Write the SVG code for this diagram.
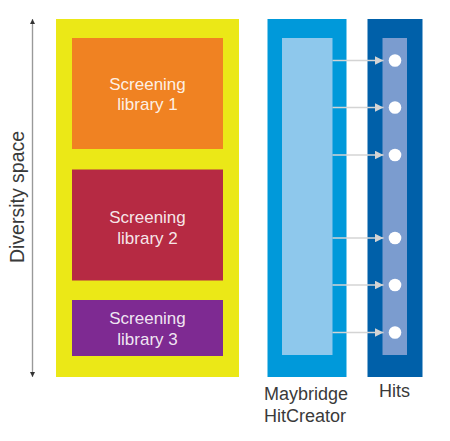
<svg xmlns="http://www.w3.org/2000/svg" width="450" height="441" viewBox="0 0 450 441">
<style>
.lbl{font-family:"Liberation Sans",Arial,sans-serif;font-size:18px;fill:#3a3a3a}
.box{font-family:"Liberation Sans",Arial,sans-serif;font-size:17px;fill:#fff;fill-opacity:0.9;text-anchor:middle}
.conn{stroke:#d4d4d4;stroke-width:1.5;fill:none;marker-end:url(#ah)}
.hit{fill:#fff}
</style>
<defs>
<marker id="ah" viewBox="0 0 10 10" refX="10" refY="5" markerWidth="10" markerHeight="8.5" markerUnits="userSpaceOnUse" orient="auto">
<path d="M0,0 L10,5 L0,10 Z" fill="#d4d4d4"/>
</marker>
<marker id="ax" viewBox="0 0 10 10" refX="10" refY="5" markerWidth="6" markerHeight="5" markerUnits="userSpaceOnUse" orient="auto">
<path d="M0,0 L10,5 L0,10 Z" fill="#333"/>
</marker>
</defs>
<rect width="450" height="441" fill="#fff"/>
<g id="axis">
<line x1="32.5" y1="370" x2="32.5" y2="19" stroke="#999" stroke-width="1.2" marker-end="url(#ax)"/>
<line x1="32.5" y1="25" x2="32.5" y2="377" stroke="#999" stroke-width="1.2" marker-end="url(#ax)"/>
<text class="lbl" style="font-size:19.5px" transform="translate(24,197) rotate(-90)" text-anchor="middle">Diversity space</text>
</g>
<g id="diversity">
<rect x="56" y="19" width="183" height="358" fill="#ebe817"/>
</g>
<g id="lib1">
<rect x="72" y="38" width="151" height="111" fill="#f08222"/>
<text class="box" x="147.5" y="89.5">Screening</text>
<text class="box" x="147.5" y="110">library 1</text>
</g>
<g id="lib2">
<rect x="72" y="169.5" width="151" height="111" fill="#b62a43"/>
<text class="box" x="147.5" y="223">Screening</text>
<text class="box" x="147.5" y="244">library 2</text>
</g>
<g id="lib3">
<rect x="72" y="300" width="151" height="56" fill="#7e2a92"/>
<text class="box" x="147.5" y="324">Screening</text>
<text class="box" x="147.5" y="345">library 3</text>
</g>
<g id="hitcreator">
<rect x="267.5" y="19" width="79" height="358" fill="#0099da"/>
<rect x="282" y="38" width="50.5" height="317" fill="#8ec8ec"/>
<text class="lbl" x="264" y="400">Maybridge</text>
<text class="lbl" x="264" y="421.5">HitCreator</text>
</g>
<g id="hits">
<rect x="367.5" y="19" width="55" height="358" fill="#0060a9"/>
<rect x="382.5" y="38" width="24.5" height="317" fill="#7b9ccf"/>
<circle class="hit" cx="395" cy="60.5" r="6.3"/>
<circle class="hit" cx="395" cy="107.5" r="6.3"/>
<circle class="hit" cx="395" cy="155" r="6.3"/>
<circle class="hit" cx="395" cy="238" r="6.3"/>
<circle class="hit" cx="395" cy="285" r="6.3"/>
<circle class="hit" cx="395" cy="332.5" r="6.3"/>
<text class="lbl" x="379" y="397">Hits</text>
</g>
<g id="connectors">
<line class="conn" x1="332.5" y1="60.5" x2="383.5" y2="60.5"/>
<line class="conn" x1="332.5" y1="107.5" x2="383.5" y2="107.5"/>
<line class="conn" x1="332.5" y1="155" x2="383.5" y2="155"/>
<line class="conn" x1="332.5" y1="238" x2="383.5" y2="238"/>
<line class="conn" x1="332.5" y1="285" x2="383.5" y2="285"/>
<line class="conn" x1="332.5" y1="332.5" x2="383.5" y2="332.5"/>
</g>
</svg>
